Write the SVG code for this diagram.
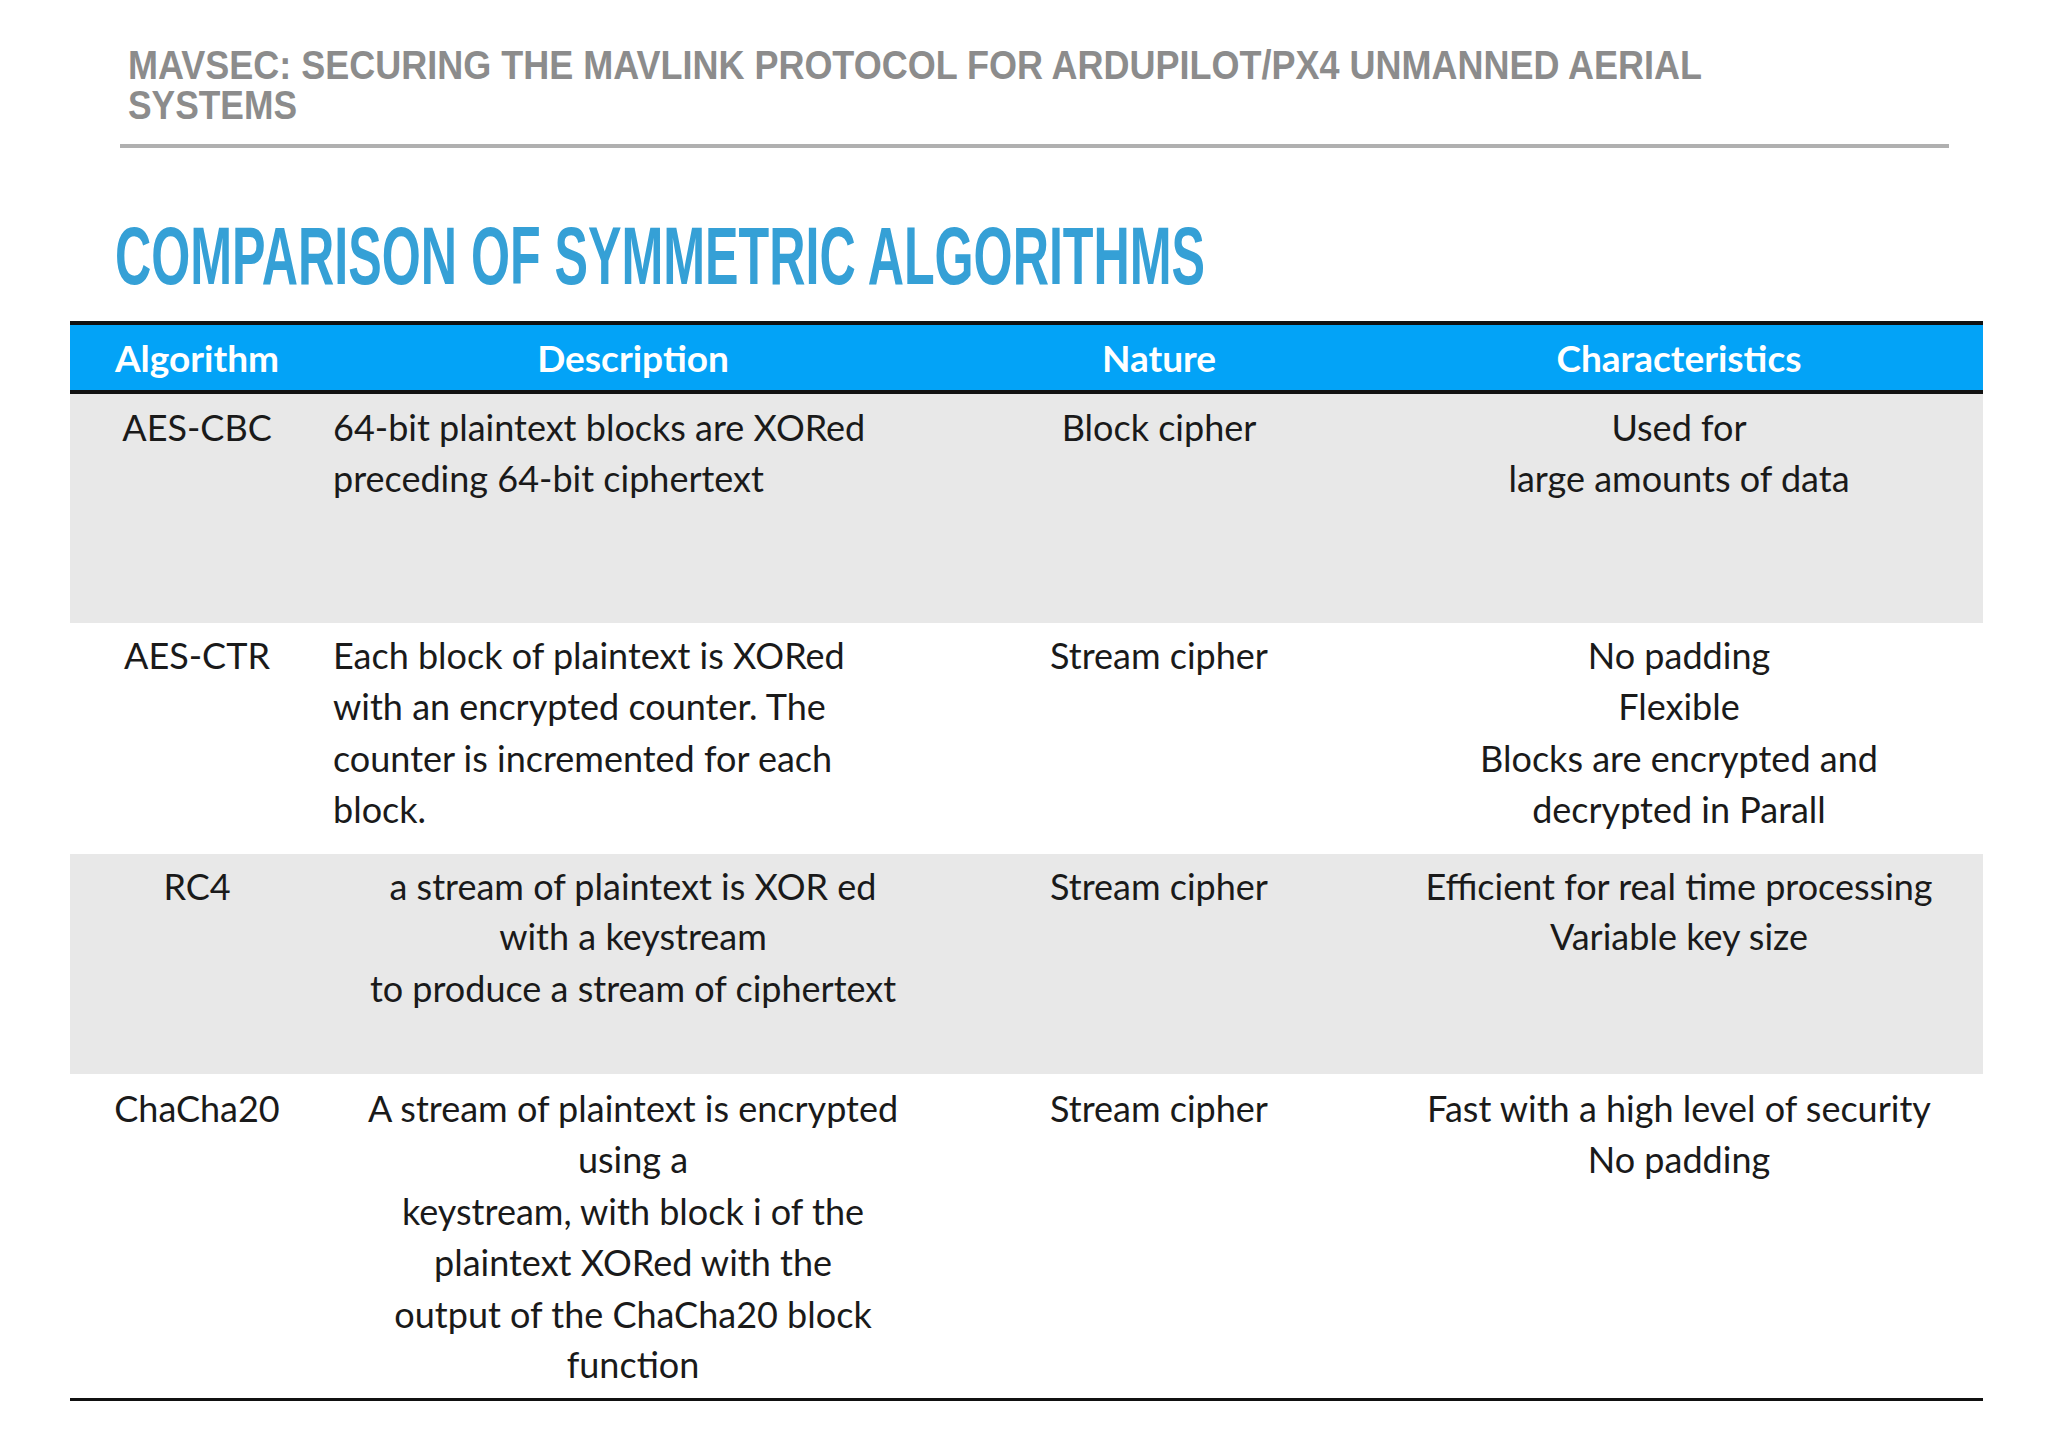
<svg xmlns="http://www.w3.org/2000/svg" width="2048" height="1448" viewBox="0 0 2048 1448">
<style>
.hd{font-family:"Liberation Sans",Arial,sans-serif;font-weight:bold;fill:#8c8c8c;font-size:40px}
.tt{font-family:"Liberation Sans",Arial,sans-serif;font-weight:bold;fill:#35a0d6;font-size:82px}
.th{font-family:Lato,"Open Sans",sans-serif;font-weight:bold;fill:#fff;font-size:37px;text-anchor:middle}
.b{font-family:Lato,"Open Sans",sans-serif;fill:#1a1a1a;font-size:36px}
.c{text-anchor:middle}
</style>
<rect width="2048" height="1448" fill="#fff"/>
<g id="header">
<text class="hd" x="128" y="79" textLength="1574" lengthAdjust="spacingAndGlyphs">MAVSEC: SECURING THE MAVLINK PROTOCOL FOR ARDUPILOT/PX4 UNMANNED AERIAL</text>
<text class="hd" x="128" y="119" textLength="169" lengthAdjust="spacingAndGlyphs">SYSTEMS</text>
<rect x="120" y="144" width="1829" height="4" fill="#b0b0b0"/>
<text class="tt" x="115" y="284" textLength="1090" lengthAdjust="spacingAndGlyphs">COMPARISON OF SYMMETRIC ALGORITHMS</text>
</g>
<g id="table">
<rect x="70" y="323" width="1913" height="69" fill="#03a3f7"/>
<rect x="70" y="394" width="1913" height="229" fill="#e8e8e8"/>
<rect x="70" y="854" width="1913" height="220" fill="#e8e8e8"/>
<rect x="70" y="321" width="1913" height="4" fill="#111"/>
<rect x="70" y="390" width="1913" height="4" fill="#111"/>
<rect x="70" y="1398" width="1913" height="3" fill="#111"/>
<text class="th" x="197" y="372">Algorithm</text>
<text class="th" x="633" y="372">Description</text>
<text class="th" x="1159" y="372">Nature</text>
<text class="th" x="1679" y="372">Characteristics</text>
</g>
<g id="row1">
<text class="b c" x="197" y="441">AES-CBC</text>
<text class="b" x="333" y="441">64-bit plaintext blocks are XORed</text>
<text class="b" x="333" y="492">preceding 64-bit ciphertext</text>
<text class="b c" x="1159" y="441">Block cipher</text>
<text class="b c" x="1679" y="441">Used for</text>
<text class="b c" x="1679" y="492">large amounts of data</text>
</g>
<g id="row2">
<text class="b c" x="197" y="669">AES-CTR</text>
<text class="b" x="333" y="669">Each block of plaintext is XORed</text>
<text class="b" x="333" y="720">with an encrypted counter. The</text>
<text class="b" x="333" y="772">counter is incremented for each</text>
<text class="b" x="333" y="823">block.</text>
<text class="b c" x="1159" y="669">Stream cipher</text>
<text class="b c" x="1679" y="669">No padding</text>
<text class="b c" x="1679" y="720">Flexible</text>
<text class="b c" x="1679" y="772">Blocks are encrypted and</text>
<text class="b c" x="1679" y="823">decrypted in Parall</text>
</g>
<g id="row3">
<text class="b c" x="197" y="900">RC4</text>
<text class="b c" x="633" y="900">a stream of plaintext is XOR ed</text>
<text class="b c" x="633" y="950">with a keystream</text>
<text class="b c" x="633" y="1002">to produce a stream of ciphertext</text>
<text class="b c" x="1159" y="900">Stream cipher</text>
<text class="b c" x="1679" y="900">Efficient for real time processing</text>
<text class="b c" x="1679" y="950">Variable key size</text>
</g>
<g id="row4">
<text class="b c" x="197" y="1122">ChaCha20</text>
<text class="b c" x="633" y="1122">A stream of plaintext is encrypted</text>
<text class="b c" x="633" y="1173">using a</text>
<text class="b c" x="633" y="1225">keystream, with block i of the</text>
<text class="b c" x="633" y="1276">plaintext XORed with the</text>
<text class="b c" x="633" y="1328">output of the ChaCha20 block</text>
<text class="b c" x="633" y="1378">function</text>
<text class="b c" x="1159" y="1122">Stream cipher</text>
<text class="b c" x="1679" y="1122">Fast with a high level of security</text>
<text class="b c" x="1679" y="1173">No padding</text>
</g>
</svg>
